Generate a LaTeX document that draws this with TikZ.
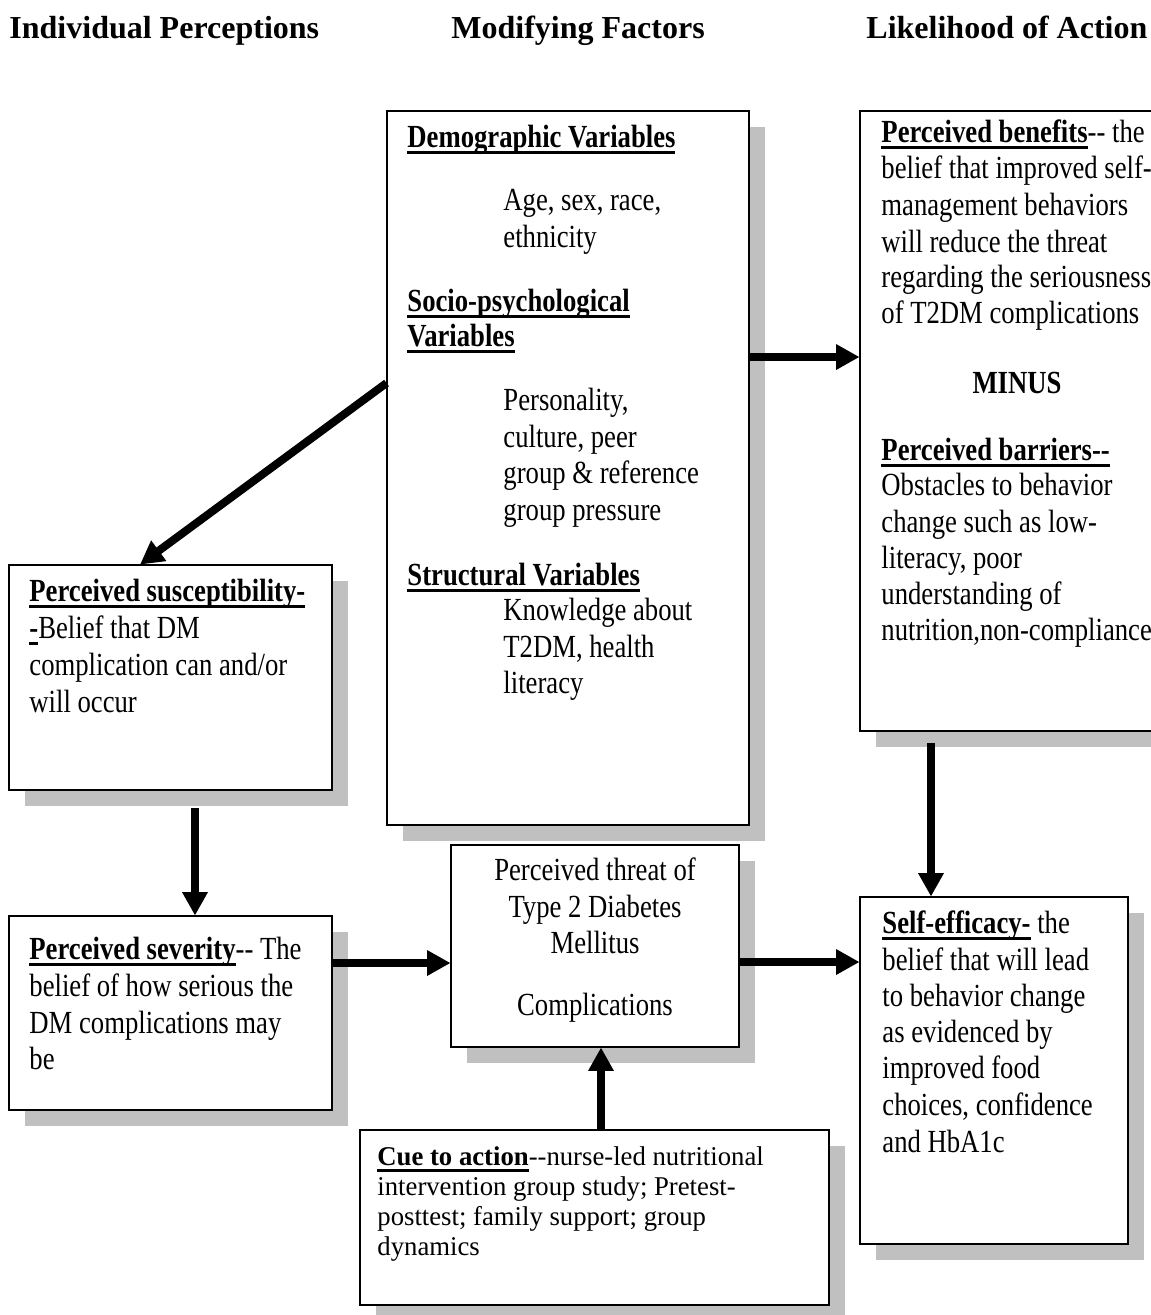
\documentclass[tikz,border=0pt]{standalone}
\usepackage{fontspec}
\setmainfont{Liberation Serif}
\newfontfamily\bodyf{Liberation Serif}[FakeStretch=0.828]
\newfontfamily\cuef{Liberation Serif}[FakeStretch=0.985]
\usetikzlibrary{arrows.meta,calc,fit}
\definecolor{shadowgray}{RGB}{192,192,192}
\newsavebox\ulsave
\newcommand\ulb[1]{\sbox\ulsave{\bfseries #1}\rlap{\rule[-3pt]{\wd\ulsave}{1.1pt}}\usebox\ulsave}
\newcommand\tx[5][]{\node[txt,#1] (#2) at (#3,#4) {#5};}
\tikzset{
  box/.style={draw=black, line width=0.9pt, fill=white, inner sep=0pt},
  txt/.style={anchor=base west, inner sep=0pt, font=\bodyf\fontsize{14.5}{17}\selectfont},
  cuetxt/.style={font=\cuef\fontsize{12.2}{14}\selectfont},
  hdr/.style={anchor=base west, inner sep=0pt, font=\fontsize{14.4}{17}\selectfont\bfseries},
  arr/.style={line width=3.6pt, -{Triangle[length=10.5pt,width=10.8pt]}},
  shadow/.style={fill=shadowgray, draw=none}
}
\begin{document}
\begin{tikzpicture}[x=0.45pt,y=-0.45pt]
\useasboundingbox (0,0) rectangle (1151,1315);
\fill[white] (0,0) rectangle (1151,1315);
\clip (0,0) rectangle (1151,1315);

% headers
\node[hdr] (h1) at (9,38) {Individual Perceptions};
\node[hdr] (h2) at (451,38) {Modifying Factors};
\node[hdr] (h3) at (866,38) {Likelihood of Action};

% boxes (shape only, for shadows)
\path node[fit={(387,111) (749,825)}, inner sep=0pt] (demo) {}
      node[fit={(860,111) (1175,731)}, inner sep=0pt] (benefits) {}
      node[fit={(9,565) (332,790)}, inner sep=0pt] (susc) {}
      node[fit={(9,916) (332,1110)}, inner sep=0pt] (sev) {}
      node[fit={(451,845) (739,1047)}, inner sep=0pt] (threat) {}
      node[fit={(860,897) (1128,1244)}, inner sep=0pt] (selfeff) {}
      node[fit={(360,1130) (829,1305)}, inner sep=0pt] (cue) {};

% shadows
\foreach \b in {demo,benefits,susc,sev,threat,selfeff,cue}{
  \fill[shadow] ($(\b.south west)+(16,16)$) rectangle ($(\b.north east)+(16,16)$);
}
% box frames
\foreach \b in {demo,benefits,susc,sev,threat,selfeff,cue}{
  \draw[box] (\b.south west) rectangle (\b.north east);
}

% arrows
\draw[arr] (demo.east |- 0,357) -- (benefits.west |- 0,357);
\draw[arr] (demo.west |- 0,383) -- (susc.north -| 140,0);
\draw[arr] ($(susc.south -| 195,0)+(0,18)$) -- (sev.north -| 195,0);
\draw[arr] (sev.east |- 0,963) -- (threat.west |- 0,963);
\draw[arr] (threat.east |- 0,962) -- (selfeff.west |- 0,962);
\draw[arr] ($(benefits.south -| 931,0)+(0,12)$) -- (selfeff.north -| 931,0);
\draw[arr] (cue.north -| 601,0) -- (threat.south -| 601,0);

% demographic box text
\tx{d1}{407}{147}{\ulb{Demographic Variables}}
\tx{d2}{503}{210}{Age, sex, race,}
\tx{d3}{503}{247}{ethnicity}
\tx{d4}{407}{311}{\ulb{Socio-psychological}}
\tx{d5}{407}{346}{\ulb{Variables}}
\tx{d6}{503}{410}{Personality,}
\tx{d7}{503}{447}{culture, peer}
\tx{d8}{503}{483}{group \& reference}
\tx{d9}{503}{520}{group pressure}
\tx{d10}{407}{585}{\ulb{Structural Variables}}
\tx{d11}{503}{620}{Knowledge about}
\tx{d12}{503}{657}{T2DM, health}
\tx{d13}{503}{693}{literacy}

% benefits / barriers text
\tx{b1}{881}{142}{\ulb{Perceived benefits}-{}- the}
\tx{b2}{881}{178}{belief that improved self-}
\tx{b3}{881}{215}{management behaviors}
\tx{b4}{881}{252}{will reduce the threat}
\tx{b5}{881}{287}{regarding the seriousness}
\tx{b6}{881}{323}{of T2DM complications}
\tx[anchor=base]{b7}{1017}{393}{\bfseries MINUS}
\tx{b8}{881}{460}{\ulb{Perceived barriers-{}-}}
\tx{b9}{881}{495}{Obstacles to behavior}
\tx{b10}{881}{532}{change such as low-}
\tx{b11}{881}{568}{literacy, poor}
\tx{b12}{881}{604}{understanding of}
\tx{b13}{881}{640}{nutrition,non-compliance}

% susceptibility
\tx{s1}{29}{601}{\ulb{Perceived susceptibility-}}
\tx{s2}{29}{638}{\ulb{-}Belief that DM}
\tx{s3}{29}{675}{complication can and/or}
\tx{s4}{29}{712}{will occur}

% severity
\tx{v1}{29}{959}{\ulb{Perceived severity}-{}- The}
\tx{v2}{29}{996}{belief of how serious the}
\tx{v3}{29}{1033}{DM complications may}
\tx{v4}{29}{1069}{be}

% threat
\tx[anchor=base]{p1}{595}{880}{Perceived threat of}
\tx[anchor=base]{p2}{595}{917}{Type 2 Diabetes}
\tx[anchor=base]{p3}{595}{953}{Mellitus}
\tx[anchor=base]{p4}{595}{1015}{Complications}

% self-efficacy
\tx{e1}{882}{933}{\ulb{Self-efficacy-} the}
\tx{e2}{882}{970}{belief that will lead}
\tx{e3}{882}{1006}{to behavior change}
\tx{e4}{882}{1042}{as evidenced by}
\tx{e5}{882}{1078}{improved food}
\tx{e6}{882}{1115}{choices, confidence}
\tx{e7}{882}{1152}{and HbA1c}

% cue to action
\tx[cuetxt]{c1}{377}{1165}{\ulb{Cue to action}-{}-nurse-led nutritional}
\tx[cuetxt]{c2}{377}{1195}{intervention group study; Pretest-}
\tx[cuetxt]{c3}{377}{1225}{posttest; family support; group}
\tx[cuetxt]{c4}{377}{1255}{dynamics}
\end{tikzpicture}
\end{document}
